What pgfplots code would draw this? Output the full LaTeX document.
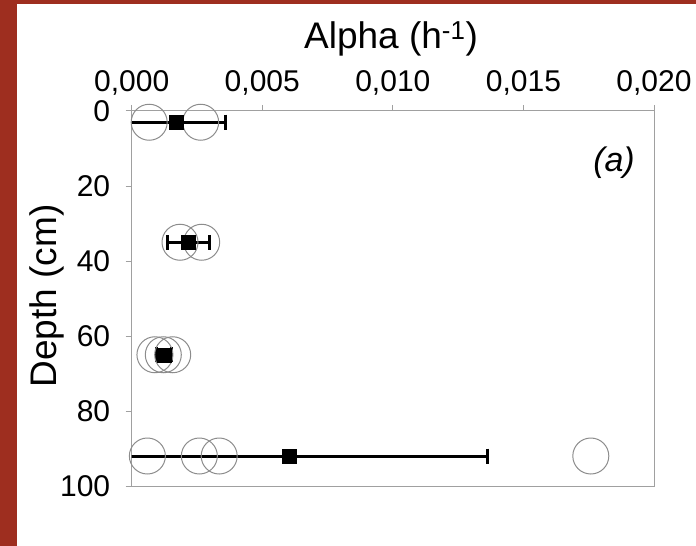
\documentclass[border=0pt]{standalone}
\usepackage{fontspec}
\setmainfont{Liberation Sans}
\usepackage{pgfplots}
\pgfplotsset{compat=1.18}
\definecolor{frame}{RGB}{158,46,31}
\definecolor{axgray}{RGB}{160,160,160}
\definecolor{circgray}{RGB}{140,140,140}

\begin{document}
\begin{tikzpicture}[x=1pt,y=1pt]
\path (0,0) rectangle (696,546);
\fill[frame] (0,0) rectangle (17,546);
\fill[frame] (0,542) rectangle (696,546);
\begin{axis}[
  at={(131.7pt,60pt)}, anchor=south west,
  scale only axis, width=522.3pt, height=375pt,
  xmin=0, xmax=0.02, ymin=0, ymax=100,
  y dir=reverse,
  xtick={0,0.005,0.01,0.015,0.02},
  ytick={0,20,40,60,80,100},
  xtick pos=right, xticklabel pos=right,
  ytick pos=left,
  tick align=outside, major tick length=6pt,
  axis line style={axgray, line width=1pt},
  tick style={axgray, line width=1pt},
  scaled x ticks=false,
  ticklabel style={font=\fontsize{30}{34}\selectfont},
  xticklabel style={anchor=base, yshift=13pt,
    /pgf/number format/.cd, use comma, fixed, fixed zerofill, precision=3, assume math mode=true},
  yticklabel style={xshift=-12pt, /pgf/number format/assume math mode=true},
]
% individual replicates
\addplot[only marks, mark=o, mark size=18pt, mark options={draw=circgray, line width=1pt}]
  coordinates {(0.00067,3)(0.00264,3)
               (0.00185,35)(0.00268,35)
               (0.00089,65)(0.00121,65)(0.00157,65)
               (0.0006,92)(0.00259,92)(0.00335,92)(0.01758,92)};
% mean +- sd
\addplot[only marks, mark=square*, mark size=7pt, black,
  error bars/.cd, x dir=both, x explicit,
  error bar style={line width=3pt, black},
  error mark options={rotate=90, line width=3pt, mark size=7.5pt, black}]
  coordinates {(0.0017,3) +- (0.0019,0)
               (0.00217,35) +- (0.0008,0)
               (0.00124,65) +- (0.0003,0)
               (0.00603,92) +- (0.0076,0)};
\node[font=\fontsize{34}{39}\selectfont\itshape] at (axis cs:0.01847,13.9) {(a)};
\end{axis}
\node[anchor=base, font=\fontsize{37}{42}\selectfont] at (391,497) {Alpha (h\textsuperscript{-1})};
\node[rotate=90, font=\fontsize{37}{42}\selectfont] at (47,250) {Depth (cm)};
\end{tikzpicture}
\end{document}
